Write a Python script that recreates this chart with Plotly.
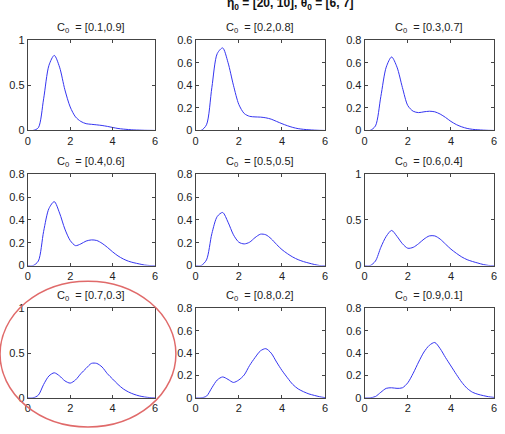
import plotly.graph_objects as go

x_vals = [0, 0.25, 0.5, 0.75, 1.0, 1.25, 1.5, 1.75, 2.0, 2.25, 2.5, 2.75, 3.0,
          3.25, 3.5, 3.75, 4.0, 4.25, 4.5, 4.75, 5.0, 5.25, 5.5, 5.75, 6.0]

titles = ["[0.1,0.9]", "[0.2,0.8]", "[0.3,0.7]",
          "[0.4,0.6]", "[0.5,0.5]", "[0.6,0.4]",
          "[0.7,0.3]", "[0.8,0.2]", "[0.9,0.1]"]

y_c1 = [0, 0, 0.03, 0.35, 0.72, 0.83, 0.70, 0.45, 0.26, 0.15, 0.10, 0.075, 0.068,
        0.062, 0.055, 0.045, 0.033, 0.022, 0.015, 0.01, 0.006, 0.004, 0.002, 0.001, 0]
y_c2 = [0, 0, 0.05, 0.38, 0.68, 0.73, 0.60, 0.40, 0.23, 0.15, 0.125, 0.12, 0.118,
        0.112, 0.10, 0.08, 0.06, 0.042, 0.027, 0.016, 0.01, 0.006, 0.003, 0.001, 0]
y_c3 = [0, 0, 0.04, 0.30, 0.56, 0.65, 0.56, 0.38, 0.22, 0.17, 0.158, 0.165, 0.17,
        0.165, 0.145, 0.115, 0.08, 0.052, 0.032, 0.018, 0.01, 0.006, 0.003, 0.001, 0]
y_c4 = [0, 0, 0.04, 0.30, 0.50, 0.56, 0.46, 0.32, 0.22, 0.175, 0.19, 0.215, 0.225,
        0.22, 0.195, 0.16, 0.12, 0.085, 0.058, 0.038, 0.025, 0.015, 0.005, 0.001, 0]
y_c5 = [0, 0, 0.05, 0.28, 0.43, 0.465, 0.38, 0.27, 0.205, 0.19, 0.205, 0.245, 0.275,
        0.27, 0.235, 0.185, 0.14, 0.105, 0.075, 0.052, 0.035, 0.022, 0.01, 0.001, 0]
y_c6 = [0, 0, 0.05, 0.20, 0.32, 0.385, 0.32, 0.24, 0.19, 0.20, 0.24, 0.29, 0.325,
        0.325, 0.29, 0.235, 0.18, 0.135, 0.095, 0.065, 0.045, 0.028, 0.012, 0.002, 0]
y_c7 = [0, 0, 0.03, 0.15, 0.245, 0.28, 0.245, 0.19, 0.165, 0.20, 0.27, 0.33, 0.385,
        0.385, 0.345, 0.27, 0.21, 0.15, 0.10, 0.065, 0.04, 0.022, 0.01, 0.003, 0]
y_c8 = [0, 0, 0.015, 0.09, 0.16, 0.187, 0.165, 0.138, 0.16, 0.205, 0.29, 0.36, 0.42,
        0.44, 0.40, 0.32, 0.245, 0.18, 0.12, 0.08, 0.055, 0.035, 0.022, 0.01, 0.002]
y_c9 = [0, 0, 0.012, 0.05, 0.085, 0.09, 0.085, 0.09, 0.135, 0.22, 0.32, 0.41, 0.47,
        0.495, 0.44, 0.36, 0.285, 0.21, 0.14, 0.085, 0.05, 0.032, 0.02, 0.01, 0.004]

series = [y_c1, y_c2, y_c3, y_c4, y_c5, y_c6, y_c7, y_c8, y_c9]
y_max = [1, 0.8, 0.8, 0.8, 0.8, 1, 1, 0.8, 0.8]

ticks_1 = ([0, 0.5, 1], ["0", "0.5", "1"])
ticks_08 = ([0, 0.2, 0.4, 0.6, 0.8], ["0", "0.2", "0.4", "0.6", "0.8"])
ticks_08_odd = ([0, 0.2, 0.4, 0.6, 0.8], ["0", "0.2", "0.4", "0.6", "0.6"])
y_ticks = [ticks_1, ticks_08_odd, ticks_08, ticks_08, ticks_08, ticks_1, ticks_1, ticks_08, ticks_08]

x_tick_vals = [0, 2, 4, 6]
x_tick_text = ["0", "2", "4", "6"]

main_title = "η<sub>0</sub> = [20, 10], θ<sub>0</sub> = [6, 7]"

W, H = 505, 434
col_px = [(25, 154), (195, 326), (366, 497)]
row_px = [(35, 128), (173, 267), (311, 403)]

fig = go.Figure()
annotations = []
for i in range(9):
    r, c = divmod(i, 3)
    n = i + 1
    xa = "xaxis" if n == 1 else f"xaxis{n}"
    ya = "yaxis" if n == 1 else f"yaxis{n}"
    xr = "x" if n == 1 else f"x{n}"
    yr = "y" if n == 1 else f"y{n}"
    fig.add_trace(go.Scatter(x=x_vals, y=series[i], mode="lines",
                             line=dict(color="#3535f0", width=1, shape="spline", smoothing=0.8),
                             xaxis=xr, yaxis=yr, showlegend=False, hoverinfo="skip"))
    x0, x1 = col_px[c]
    y0, y1 = row_px[r]
    axis_common = dict(showline=True, linecolor="#444", linewidth=1, mirror="ticks",
                       ticks="inside", ticklen=3, tickcolor="#444", showgrid=False,
                       zeroline=False, tickfont=dict(family="Liberation Sans, Arial", size=11, color="#222"))
    fig.layout[xa] = dict(domain=[x0 / W, x1 / W], range=[0, 6], anchor=yr,
                          tickvals=x_tick_vals, ticktext=x_tick_text, **axis_common)
    tv, tt = y_ticks[i]
    fig.layout[ya] = dict(domain=[1 - y1 / H, 1 - y0 / H], range=[0, y_max[i]], anchor=xr,
                          tickvals=tv, ticktext=tt, **axis_common)
    annotations.append(dict(text="C<sub>0</sub>  = " + titles[i], xref="paper", yref="paper",
                            x=(x0 + x1) / 2 / W, y=1 - y0 / H, yshift=3,
                            xanchor="center", yanchor="bottom", showarrow=False,
                            font=dict(family="Liberation Sans, Arial", size=11, color="#222")))

annotations.append(dict(text="<b>" + main_title + "</b>", xref="paper", yref="paper",
                        x=291 / W, y=1, yshift=2, xanchor="center", yanchor="middle",
                        showarrow=False,
                        font=dict(family="Liberation Sans, Arial", size=12, color="#111")))

shapes = [dict(type="circle", xref="paper", yref="paper",
               x0=-3 / W, x1=175 / W, y0=1 - 433 / H, y1=1 - 283 / H,
               line=dict(color="#e06a6a", width=1.5))]

fig.update_layout(width=W, height=H, margin=dict(l=0, r=0, t=0, b=0),
                  paper_bgcolor="white", plot_bgcolor="white",
                  annotations=annotations, shapes=shapes)

fig.write_html("out.html")
